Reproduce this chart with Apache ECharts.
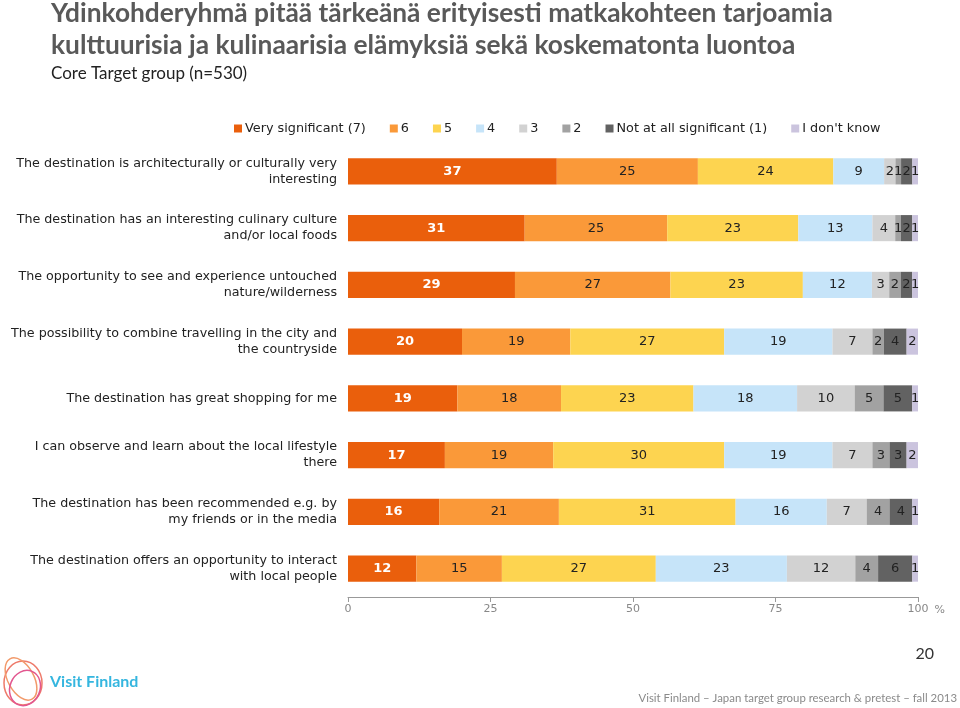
<!DOCTYPE html>
<html><head><meta charset="utf-8">
<script src="https://cdn.jsdelivr.net/npm/echarts@6/dist/echarts.min.js"></script>
<style>html,body{margin:0;padding:0;background:#fff}#c{width:960px;height:708px}</style>
</head><body><div id="c"></div>
<script>
const categories = [
  "The destination is architecturally or culturally very\ninteresting",
  "The destination has an interesting culinary culture\nand/or local foods",
  "The opportunity to see and experience untouched\nnature/wilderness",
  "The possibility to combine travelling in the city and\nthe countryside",
  "The destination has great shopping for me",
  "I can observe and learn about the local lifestyle\nthere",
  "The destination has been recommended e.g. by\nmy friends or in the media",
  "The destination offers an opportunity to interact\nwith local people"
];
const seriesNames = ["Very significant (7)", "6", "5", "4", "3", "2", "Not at all significant (1)", "I don't know"];
const s7  = [37, 31, 29, 20, 19, 17, 16, 12];
const s6  = [25, 25, 27, 19, 18, 19, 21, 15];
const s5  = [24, 23, 23, 27, 23, 30, 31, 27];
const s4  = [9, 13, 12, 19, 18, 19, 16, 23];
const s3  = [2, 4, 3, 7, 10, 7, 7, 12];
const s2  = [1, 1, 2, 2, 5, 3, 4, 4];
const s1  = [2, 2, 2, 4, 5, 3, 4, 6];
const sDK = [1, 1, 1, 2, 1, 2, 1, 1];
const xTicks = [0, 25, 50, 75, 100];
const colors = ["#EA5F0C", "#FA9939", "#FDD450", "#C6E4F9", "#D2D2D2", "#A2A2A2", "#626262", "#CBC4DE"];

const raw = [s7, s6, s5, s4, s3, s2, s1, sDK];
const totals = categories.map((_, i) => raw.reduce((a, s) => a + s[i], 0));

const series = raw.map((arr, k) => ({
  name: seriesNames[k],
  type: 'bar',
  stack: 'all',
  barWidth: '46%',
  itemStyle: { color: colors[k] },
  data: arr.map((v, i) => ({ value: v * 100 / totals[i], raw: v })),
  label: {
    show: true,
    position: 'inside',
    formatter: p => String(p.data.raw),
    fontFamily: 'DejaVu Sans',
    fontSize: 13,
    color: k === 0 ? '#fff' : '#222',
    fontWeight: k === 0 ? 'bold' : 'normal'
  },
  emphasis: { disabled: true }
}));

const chart = echarts.init(document.getElementById('c'), null, { renderer: 'canvas' });
chart.setOption({
  animation: false,
  color: colors,
  textStyle: { fontFamily: 'DejaVu Sans' },
  title: [
    { text: 'Ydinkohderyhmä pitää tärkeänä erityisesti matkakohteen tarjoamia\nkulttuurisia ja kulinaarisia elämyksiä sekä koskematonta luontoa',
      left: 46, top: -7,
      textStyle: { fontFamily: 'Lato', fontWeight: 'bold', fontSize: 26.3, color: '#595959', lineHeight: 32 } },
    { text: 'Core Target group (n=530)', left: 46, top: 60,
      textStyle: { fontFamily: 'Lato', fontWeight: 'normal', fontSize: 17, color: '#222' } }
  ],
  legend: {
    top: 117, left: 229,
    itemWidth: 8, itemHeight: 8, icon: 'rect', itemGap: 24,
    textStyle: { fontFamily: 'DejaVu Sans', fontSize: 12.8, color: '#222', padding: [0, 0, 0, -2] },
    data: seriesNames
  },
  grid: { left: 348, right: 42, top: 143, bottom: 111, containLabel: false },
  xAxis: {
    type: 'value', min: 0, max: 100, interval: 25,
    name: '%', nameLocation: 'end', nameGap: 12,
    nameTextStyle: { color: '#888', fontSize: 11, verticalAlign: 'top', padding: [8, 0, 0, 0] },
    axisLine: { show: true, lineStyle: { color: '#999' } },
    axisTick: { show: true, length: 5, lineStyle: { color: '#999' } },
    axisLabel: { color: '#888', fontSize: 11, margin: 7, formatter: v => xTicks.includes(v) ? String(v) : '' },
    splitLine: { show: false }
  },
  yAxis: {
    type: 'category', data: categories, inverse: true,
    axisLine: { show: false }, axisTick: { show: false },
    axisLabel: { color: '#222', fontSize: 12.7, fontFamily: 'DejaVu Sans', margin: 11, lineHeight: 16, align: 'right' }
  },
  series: series,
  graphic: [
    { type: 'text', right: 26, top: 646, style: { text: '20', fontFamily: 'Lato', fontSize: 16, fill: '#333' } },
    { type: 'text', right: 3, top: 693, style: { text: 'Visit Finland – Japan target group research & pretest – fall 2013', fontFamily: 'Lato', fontSize: 11.4, fill: '#8a8a8a' } },
    { type: 'ellipse', shape: { cx: 23, cy: 683, rx: 19, ry: 22 }, style: { fill: 'none', stroke: '#EE7A6A', lineWidth: 1.5 } },
    { type: 'ellipse', shape: { cx: 21, cy: 679, rx: 13, ry: 23 }, rotation: 0.5, originX: 21, originY: 679, style: { fill: 'none', stroke: '#F29A6B', lineWidth: 1.5 } },
    { type: 'ellipse', shape: { cx: 25, cy: 688, rx: 15, ry: 18 }, rotation: -0.4, originX: 25, originY: 688, style: { fill: 'none', stroke: '#E2578F', lineWidth: 1.5 } },
    { type: 'text', left: 50, top: 674, style: { text: 'Visit Finland', fontFamily: 'Lato', fontWeight: 'bold', fontSize: 16, fill: '#35B6DF' } }
  ]
});
</script></body></html>
